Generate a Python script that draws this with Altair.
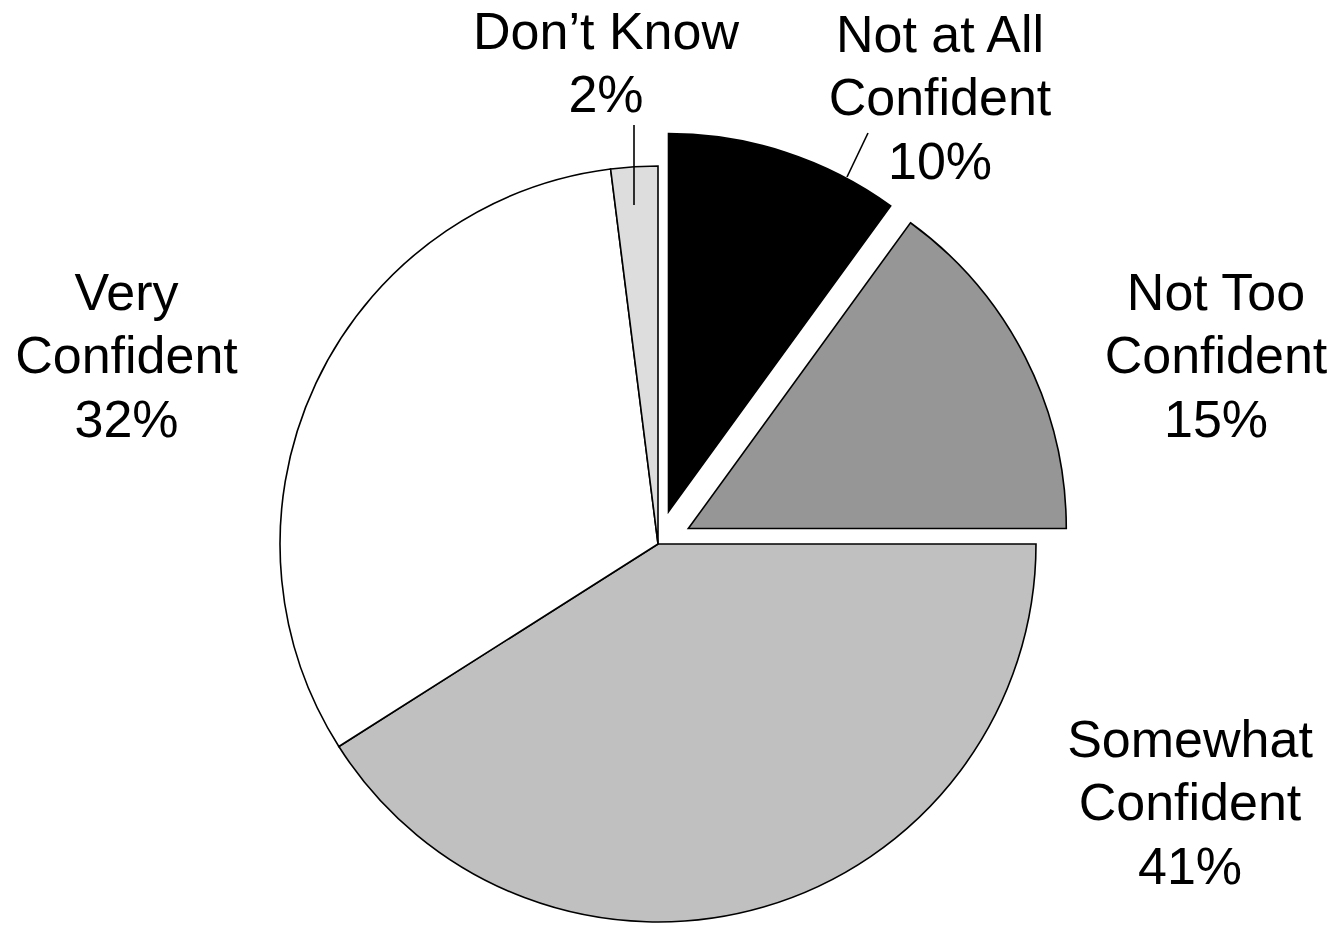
import math
import altair as alt
import pandas as pd

# ---- data ----
categories = ["Not at All Confident", "Not Too Confident", "Somewhat Confident",
              "Very Confident", "Don't Know"]
values = [10, 15, 41, 32, 2]
label_lines = ["Not at All\nConfident", "Not Too\nConfident", "Somewhat\nConfident",
               "Very\nConfident", "Don’t Know"]

# ---- styling / layout ----
colors = ["#000000", "#969696", "#C0C0C0", "#FFFFFF", "#DDDDDD"]
explode = [34, 34, 0, 0, 0]
CX, CY, R = 650, 536, 378
LH = 63.5
label_x = [932, 1208, 1182, 118.5, 598]
label_y_first = [27.9, 285.9, 732.9, 285.9, 24.6]   # position of first line
leaders = [(626, 117, 626, 197), (860, 125, 839, 169)]
FONT = "Liberation Sans"

total = sum(values)
starts, ends = [], []
acc = 0
for v in values:
    starts.append(acc)
    acc += v
    ends.append(acc)

df = pd.DataFrame({
    "category": categories,
    "value": values,
    "start": starts,
    "end": ends,
})

theta_scale = alt.Scale(domain=[0, total], range=[0, 2 * math.pi])

layers = []
for i, cat in enumerate(categories):
    mid = (starts[i] + ends[i]) / 2 / total * 2 * math.pi
    dx = explode[i] * math.sin(mid)
    dy = -explode[i] * math.cos(mid)
    arc = alt.Chart(df).transform_filter(
        alt.datum.category == cat
    ).mark_arc(
        outerRadius=R, stroke="#000000", strokeWidth=1.6,
        fill=colors[i], xOffset=dx, yOffset=dy, strokeJoin="miter"
    ).encode(
        theta=alt.Theta("start:Q", scale=theta_scale),
        theta2="end:Q",
        x=alt.value(CX),
        y=alt.value(CY),
    )
    layers.append(arc)

lab_df = pd.DataFrame({
    "text": [f"{l}\n{v}%" for l, v in zip(label_lines, values)],
    "lx": label_x,
    "ly": label_y_first,
})
labels = alt.Chart(lab_df).mark_text(
    font=FONT, fontSize=52, lineHeight=LH, lineBreak="\n",
    align="center", baseline="middle", color="#000000"
).encode(
    x=alt.X("lx:Q", scale=None, axis=None),
    y=alt.Y("ly:Q", scale=None, axis=None),
    text="text:N",
)

lead_df = pd.DataFrame({
    "x1": [l[0] for l in leaders], "y1": [l[1] for l in leaders],
    "x2": [l[2] for l in leaders], "y2": [l[3] for l in leaders],
})
lead = alt.Chart(lead_df).mark_rule(color="#000000", strokeWidth=1.6).encode(
    x=alt.X("x1:Q", scale=None, axis=None),
    y=alt.Y("y1:Q", scale=None, axis=None),
    x2="x2:Q",
    y2="y2:Q",
)

chart = alt.layer(*layers, lead, labels).properties(
    width=1326, height=918,
    autosize=alt.AutoSizeParams(type="none"),
    padding=0,
    background="#FFFFFF",
).configure_view(stroke=None, strokeWidth=0)

chart.save("out.html", embed_options={"renderer": "svg", "actions": False})
